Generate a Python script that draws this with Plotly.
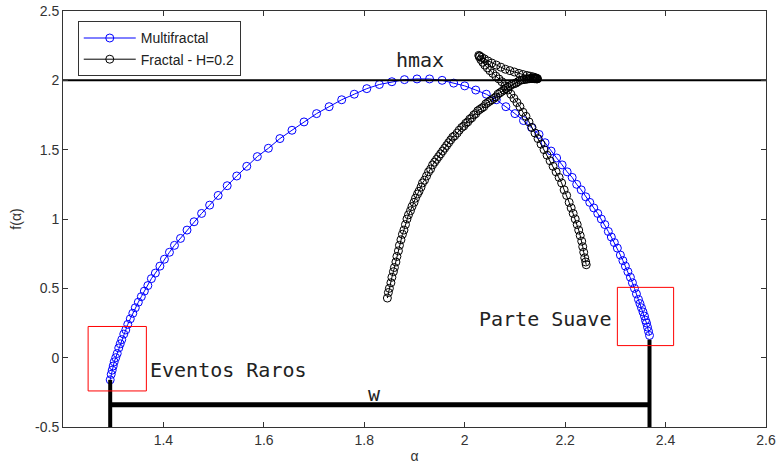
import plotly.graph_objects as go

# ---------------- data ----------------
multi_alpha = [1.294, 1.296, 1.298, 1.300, 1.302, 1.305, 1.308, 1.311, 1.314, 1.317,
               1.321, 1.325, 1.329, 1.334, 1.339, 1.344, 1.350, 1.356, 1.362, 1.369,
               1.376, 1.384, 1.393, 1.402, 1.412, 1.422, 1.434, 1.447, 1.461, 1.476,
               1.492, 1.509, 1.527, 1.546, 1.566, 1.587, 1.609, 1.632, 1.656, 1.680,
               1.705, 1.730, 1.755, 1.780, 1.805, 1.830, 1.855, 1.880, 1.905, 1.930,
               1.955, 1.978, 2.000, 2.022, 2.043, 2.063, 2.082, 2.100, 2.117, 2.133,
               2.148, 2.160, 2.172, 2.183, 2.194, 2.204, 2.214, 2.223, 2.232, 2.241,
               2.249, 2.257, 2.265, 2.272, 2.279, 2.286, 2.292, 2.298, 2.304, 2.310,
               2.315, 2.320, 2.325, 2.330, 2.334, 2.338, 2.342, 2.346, 2.349, 2.352,
               2.355, 2.358, 2.360, 2.362, 2.364, 2.366, 2.368]
multi_f = [-0.16, -0.12, -0.09, -0.06, -0.03, 0.00, 0.03, 0.07, 0.10, 0.13,
           0.17, 0.20, 0.24, 0.28, 0.32, 0.36, 0.40, 0.44, 0.48, 0.52,
           0.57, 0.61, 0.66, 0.71, 0.76, 0.81, 0.86, 0.92, 0.98, 1.04,
           1.10, 1.17, 1.24, 1.31, 1.38, 1.45, 1.51, 1.58, 1.64, 1.70,
           1.76, 1.81, 1.86, 1.90, 1.94, 1.97, 1.99, 2.005, 2.01, 2.01,
           2.00, 1.98, 1.96, 1.93, 1.90, 1.86, 1.81, 1.76, 1.71, 1.66,
           1.61, 1.55, 1.49, 1.44, 1.39, 1.34, 1.30, 1.25, 1.21, 1.16,
           1.12, 1.08, 1.04, 1.00, 0.96, 0.91, 0.87, 0.83, 0.79, 0.74,
           0.70, 0.66, 0.62, 0.58, 0.54, 0.50, 0.46, 0.42, 0.39, 0.36,
           0.33, 0.30, 0.27, 0.25, 0.22, 0.19, 0.16]

frac_alpha = [1.846, 1.848, 1.850, 1.853, 1.855, 1.858, 1.860, 1.863, 1.865, 1.868,
              1.870, 1.873, 1.876, 1.879, 1.882, 1.885, 1.888, 1.892, 1.895, 1.899,
              1.902, 1.906, 1.909, 1.913, 1.916, 1.920, 1.924, 1.928, 1.932, 1.936,
              1.940, 1.944, 1.948, 1.952, 1.956, 1.960, 1.964, 1.968, 1.972, 1.976,
              1.980, 1.985, 1.989, 1.994, 1.998, 2.002, 2.006, 2.010, 2.014, 2.018,
              2.022, 2.026, 2.030, 2.034, 2.038, 2.042, 2.046, 2.050, 2.054, 2.058,
              2.062, 2.066, 2.070, 2.074, 2.078, 2.082, 2.086, 2.090, 2.094, 2.098,
              2.102, 2.106, 2.110, 2.114, 2.118, 2.122, 2.125, 2.128, 2.130, 2.132,
              2.134, 2.136, 2.137, 2.138, 2.139, 2.140, 2.141, 2.142, 2.143, 2.144,
              2.145, 2.144, 2.143, 2.140, 2.136, 2.130, 2.124, 2.116, 2.108, 2.099,
              2.090, 2.081, 2.072, 2.063, 2.054, 2.046, 2.039, 2.034, 2.030, 2.028,
              2.029, 2.032, 2.036, 2.040, 2.045, 2.050, 2.056, 2.062, 2.068, 2.074,
              2.080, 2.086, 2.092, 2.098, 2.104, 2.110, 2.116, 2.122, 2.128, 2.134,
              2.140, 2.146, 2.152, 2.158, 2.164, 2.170, 2.176, 2.182, 2.188, 2.193,
              2.198, 2.203, 2.208, 2.212, 2.216, 2.220, 2.224, 2.227, 2.230, 2.233,
              2.235, 2.237, 2.239, 2.241, 2.242]
frac_f = [0.43, 0.47, 0.50, 0.54, 0.58, 0.62, 0.65, 0.69, 0.73, 0.77,
          0.81, 0.85, 0.89, 0.92, 0.96, 1.00, 1.03, 1.06, 1.09, 1.12,
          1.15, 1.18, 1.20, 1.23, 1.26, 1.28, 1.31, 1.34, 1.36, 1.39,
          1.41, 1.43, 1.45, 1.47, 1.49, 1.51, 1.53, 1.55, 1.57, 1.59,
          1.60, 1.62, 1.64, 1.66, 1.67, 1.69, 1.70, 1.72, 1.73, 1.75,
          1.76, 1.78, 1.79, 1.80, 1.81, 1.83, 1.84, 1.85, 1.86, 1.87,
          1.88, 1.90, 1.91, 1.92, 1.93, 1.94, 1.95, 1.96, 1.97, 1.975,
          1.98, 1.99, 2.00, 2.003, 2.005, 2.008, 2.010, 2.011, 2.012, 2.012,
          2.013, 2.013, 2.013, 2.013, 2.012, 2.012, 2.012, 2.012, 2.011, 2.011,
          2.011, 2.013, 2.015, 2.020, 2.025, 2.030, 2.035, 2.042, 2.050, 2.060,
          2.070, 2.080, 2.095, 2.110, 2.125, 2.140, 2.155, 2.165, 2.175, 2.180,
          2.17, 2.15, 2.13, 2.11, 2.09, 2.07, 2.05, 2.03, 2.01, 1.99,
          1.96, 1.93, 1.90, 1.87, 1.84, 1.81, 1.77, 1.74, 1.70, 1.66,
          1.62, 1.58, 1.54, 1.50, 1.46, 1.42, 1.38, 1.34, 1.30, 1.26,
          1.21, 1.17, 1.12, 1.08, 1.04, 1.00, 0.96, 0.92, 0.88, 0.84,
          0.80, 0.76, 0.72, 0.69, 0.67]

hmax_level = 2.0
w_level = -0.34
x_range = [1.2, 2.6]
y_range = [-0.5, 2.5]
x_ticks = [1.2, 1.4, 1.6, 1.8, 2.0, 2.2, 2.4, 2.6]
x_ticklabels = ["", "1.4", "1.6", "1.8", "2", "2.2", "2.4", "2.6"]
y_ticks = [-0.5, 0, 0.5, 1, 1.5, 2, 2.5]
y_ticklabels = ["-0.5", "0", "0.5", "1", "1.5", "2", "2.5"]
# red highlight boxes [x0, x1, y0, y1]
box_rare = [1.25, 1.366, -0.24, 0.225]
box_smooth = [2.304, 2.416, 0.087, 0.507]

a_min = min(multi_alpha)
a_max = max(multi_alpha)
f_at_min = multi_f[multi_alpha.index(a_min)]
f_at_max = multi_f[multi_alpha.index(a_max)]

fig = go.Figure()

fig.add_trace(go.Scatter(
    x=multi_alpha, y=multi_f, mode="lines+markers", name="Multifractal",
    line=dict(color="#0000ff", width=1),
    marker=dict(symbol="circle-open", size=8, color="#0000ff", line=dict(width=1)),
))
fig.add_trace(go.Scatter(
    x=frac_alpha, y=frac_f, mode="lines+markers", name="Fractal - H=0.2",
    line=dict(color="#000000", width=1),
    marker=dict(symbol="circle-open", size=8, color="#000000", line=dict(width=1)),
))

# hmax line
fig.add_trace(go.Scatter(x=x_range, y=[hmax_level, hmax_level], mode="lines",
                         line=dict(color="black", width=2), showlegend=False, hoverinfo="skip"))
# w bracket
fig.add_trace(go.Scatter(x=[a_min, a_max], y=[w_level, w_level], mode="lines",
                         line=dict(color="black", width=5), showlegend=False, hoverinfo="skip"))
fig.add_trace(go.Scatter(x=[a_min, a_min], y=[y_range[0], f_at_min], mode="lines",
                         line=dict(color="black", width=4), showlegend=False, hoverinfo="skip"))
fig.add_trace(go.Scatter(x=[a_max, a_max], y=[y_range[0], f_at_max - 0.03], mode="lines",
                         line=dict(color="black", width=4), showlegend=False, hoverinfo="skip"))

for b in (box_rare, box_smooth):
    fig.add_shape(type="rect", x0=b[0], x1=b[1], y0=b[2], y1=b[3],
                  line=dict(color="#ff0000", width=1), xref="x", yref="y")

mono = "DejaVu Sans Mono"
tcol = "#222"
fig.add_annotation(x=1.910, y=2.15, text="hmax", showarrow=False,
                   font=dict(family=mono, size=20, color=tcol), xanchor="center", yanchor="middle")
fig.add_annotation(x=1.370, y=-0.09, text="Eventos Raros", showarrow=False,
                   font=dict(family=mono, size=20, color=tcol), xanchor="left", yanchor="middle")
fig.add_annotation(x=2.296, y=0.28, text="Parte Suave", showarrow=False,
                   font=dict(family=mono, size=20, color=tcol), xanchor="right", yanchor="middle")
fig.add_annotation(x=1.82, y=-0.26, text="w", showarrow=False,
                   font=dict(family=mono, size=20, color=tcol), xanchor="center", yanchor="middle")

axis_common = dict(showline=True, linecolor="#333", linewidth=1, mirror="ticks",
                   ticks="inside", ticklen=5, tickcolor="#333", showgrid=False,
                   zeroline=False, automargin=False,
                   tickfont=dict(family="Liberation Sans", size=14, color="#333"))
fig.update_xaxes(range=x_range, tickvals=x_ticks, ticktext=x_ticklabels,
                 title=dict(text="α", font=dict(family="Liberation Sans", size=14, color="#333"), standoff=4),
                 **axis_common)
fig.update_yaxes(range=y_range, tickvals=y_ticks, ticktext=y_ticklabels,
                 title=dict(text="f(α)", font=dict(family="Liberation Sans", size=14, color="#333"), standoff=10),
                 **axis_common)

fig.update_layout(
    width=779, height=468,
    margin=dict(l=63, r=13, t=11, b=41),
    paper_bgcolor="white", plot_bgcolor="white",
    showlegend=True,
    legend=dict(x=0.021, y=0.975, xanchor="left", yanchor="top",
                bgcolor="white", bordercolor="#333", borderwidth=1,
                font=dict(family="Liberation Sans", size=14, color="#222"),
                itemwidth=52, tracegroupgap=0),
)

fig.write_html("out.html")
